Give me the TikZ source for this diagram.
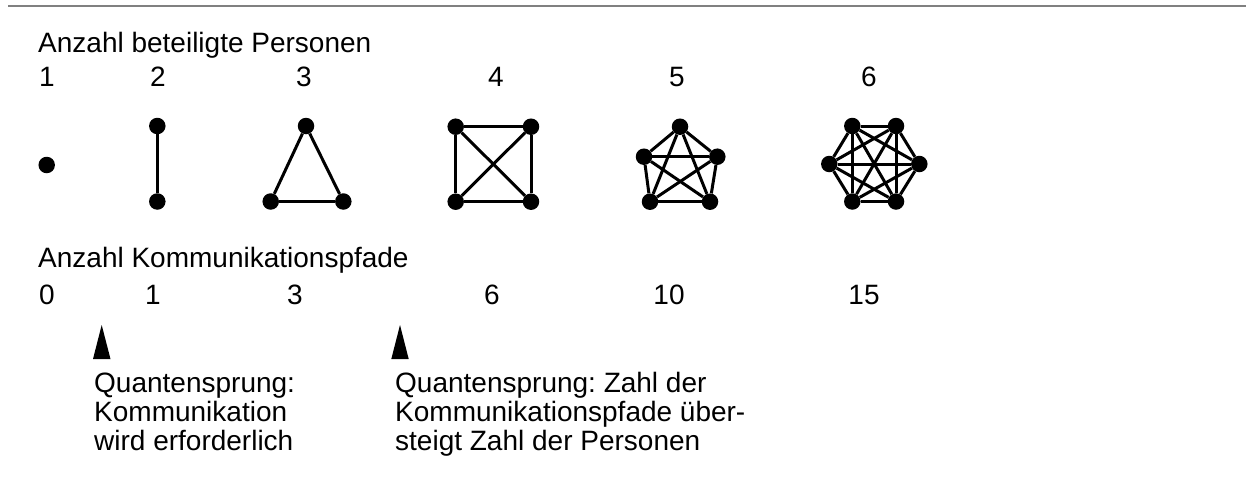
\documentclass[tikz,border=0pt]{standalone}
\usepackage{fontspec}
\setmainfont{Liberation Sans}
\frenchspacing
\usetikzlibrary{positioning}

\begin{document}
\begin{tikzpicture}[x=1pt,y=-1pt,
  punkt/.style={circle,fill,inner sep=0pt,minimum size=16.5pt},
  kante/.style={line width=3pt},
  txt/.style={inner sep=0pt,font=\fontsize{28}{29}\selectfont}]
  \useasboundingbox (0,0) rectangle (1247,477);
  % 罫線
  \draw[gray,line width=2pt] (8,6)--(1246,6);
  % 見出し
  \node[txt,anchor=base west] (kopf1) at (38,52) {Anzahl beteiligte Personen};
  \node[txt,anchor=base west] (kopf2) at (38,267) {Anzahl Kommunikationspfade};
  % 人数と経路数
  \foreach \x/\n in {47/1,158/2,304/3,496/4,677/5,869/6}
    \node[txt,anchor=base] (n\n) at (\x,86) {\n};
  \foreach \x/\n in {47/0,153/1,295/3,492/6,669/10,864/15}
    \node[txt,anchor=base] (k\n) at (\x,304) {\n};
  % 点
  \node[punkt] (p11) at (46.7,165) {};
  \node[punkt] (p21) at (157.3,126) {};
  \node[punkt] (p22) at (157.3,201.5) {};
  \foreach \x/\y [count=\i] in {306/126,270.7/201.5,343.3/201.5}
    \node[punkt] (p3\i) at (\x,\y) {};
  \foreach \x/\y [count=\i] in {455.7/126.7,531/126.7,531/201.7,455.7/201.7}
    \node[punkt] (p4\i) at (\x,\y) {};
  \foreach \x/\y [count=\i] in {680/126.7,717.3/156.7,710/201.7,650/201.7,644/156.7}
    \node[punkt] (p5\i) at (\x,\y) {};
  \foreach \x/\y [count=\i] in {852.3/126,896/126,919.3/164,896/201.5,852.3/201.5,829.3/164}
    \node[punkt] (p6\i) at (\x,\y) {};
  % 線
  \draw[kante] (p21)--(p22);
  \foreach \n in {3,4,5,6}
    \foreach \i in {1,...,\n}
      \foreach \j in {1,...,\n}
        {\ifnum\i<\j \draw[kante] (p\n\i)--(p\n\j); \fi}
  % 矢印
  \fill (101.7,325)--(93,359)--(110.5,359)--cycle;
  \fill (400,325)--(391.3,359)--(408.7,359)--cycle;
  % 説明（base は最終行）
  \node[txt,anchor=base west,align=left] (q1) at (94,450)
    {Quantensprung:\\Kommunikation\\wird erforderlich};
  \node[txt,anchor=base west,align=left] (q2) at (395,450)
    {Quantensprung: Zahl der\\Kommunikationspfade über-\\steigt Zahl der Personen};
\end{tikzpicture}
\end{document}
